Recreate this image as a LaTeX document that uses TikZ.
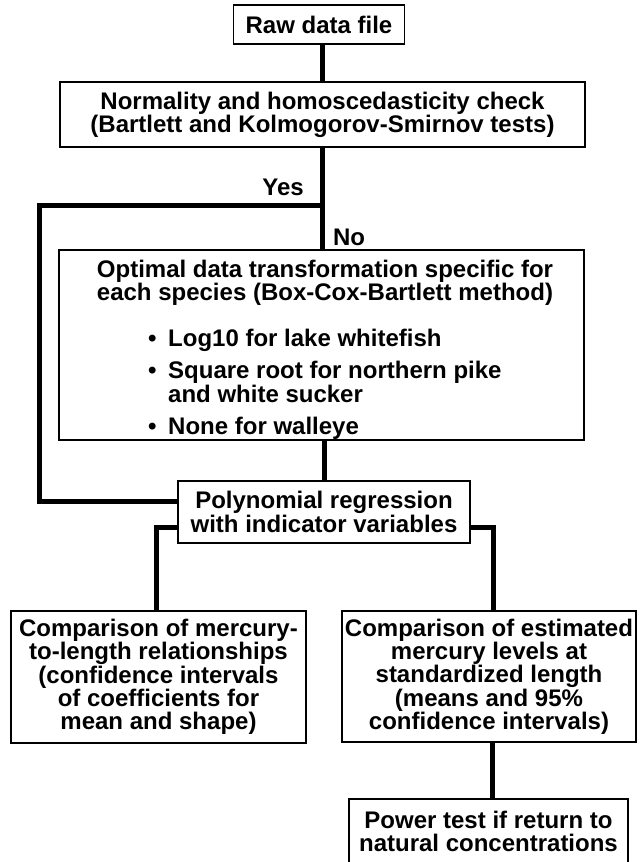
\documentclass[tikz,border=0pt]{standalone}
\usepackage{fontspec}
\setmainfont{Liberation Sans}
\newcommand\fsz{\bfseries\fontsize{24}{23.3}\selectfont}
\tikzset{
  box/.style={draw, line width=1.8pt, fill=white, inner sep=0pt, align=center, font=\fsz},
  conn/.style={line width=5pt, line join=miter},
  lbl/.style={font=\fsz, inner sep=0pt}
}
\begin{document}
\begin{tikzpicture}[x=1pt, y=-1pt]
\useasboundingbox (0,0) rectangle (641,862);

% boxes
\node[box, minimum width=171, minimum height=39] (raw) at (319,24.5) {Raw data file};
\node[box, minimum width=525, minimum height=65] (norm) at (322.5,114.5)
  {Normality and homoscedasticity check\\(Bartlett and Kolmogorov-Smirnov tests)};
\node[box, minimum width=525, minimum height=190] (opt) at (321.5,345) {};
\node[lbl, align=center] (opttitle) at (325,283)
  {Optimal data transformation specific for\\each species (Box-Cox-Bartlett method)};
\node[lbl, anchor=north west] (optlist) at (147.8,329.3) {%
  \begin{tabular}{@{}l@{\hspace{11.8pt}}l@{}}
  \textbullet & Log10 for lake whitefish\\[7pt]
  \textbullet & Square root for northern pike\\
              & and white sucker\\[7pt]
  \textbullet & None for walleye
  \end{tabular}};
\node[box, minimum width=292, minimum height=62] (poly) at (324,512)
  {Polynomial regression\\with indicator variables};
\node[box, minimum width=295, minimum height=132] (cmpL) at (158.5,677)
  {Comparison of mercury-\\to-length relationships\\(confidence intervals\\of coefficients for\\mean and shape)};
\node[box, minimum width=294, minimum height=131] (cmpR) at (489,676.5)
  {Comparison of estimated\\mercury levels at\\standardized length\\(means and 95\%\\confidence intervals)};
\node[box, minimum width=279, minimum height=65] (power) at (488.5,831.5)
  {Power test if return to\\natural concentrations};

% labels
\node[lbl] (yes) at (283,187) {Yes};
\node[lbl] (no) at (349,237) {No};

% junction coordinates
\coordinate (yesj) at (322.5,205);
\coordinate (yescorner) at (39.5,501);
\coordinate (brL) at (156,527);
\coordinate (brR) at (493,527);
\coordinate (pw) at (492,760);

% connectors
\draw[conn] (norm.north |- raw.south) -- (norm.north);
\draw[conn] (norm.south) -- (norm.south |- opt.north);
\draw[conn] (yesj) -| (yescorner) -- (yescorner -| poly.west);
\draw[conn] (poly.north |- opt.south) -- (poly.north);
\draw[conn] (brL -| poly.west) -- (brL) -- (brL |- cmpL.north);
\draw[conn] (brR -| poly.east) -- (brR) -- (brR |- cmpR.north);
\draw[conn] (pw |- cmpR.south) -- (pw |- power.north);
\end{tikzpicture}
\end{document}
